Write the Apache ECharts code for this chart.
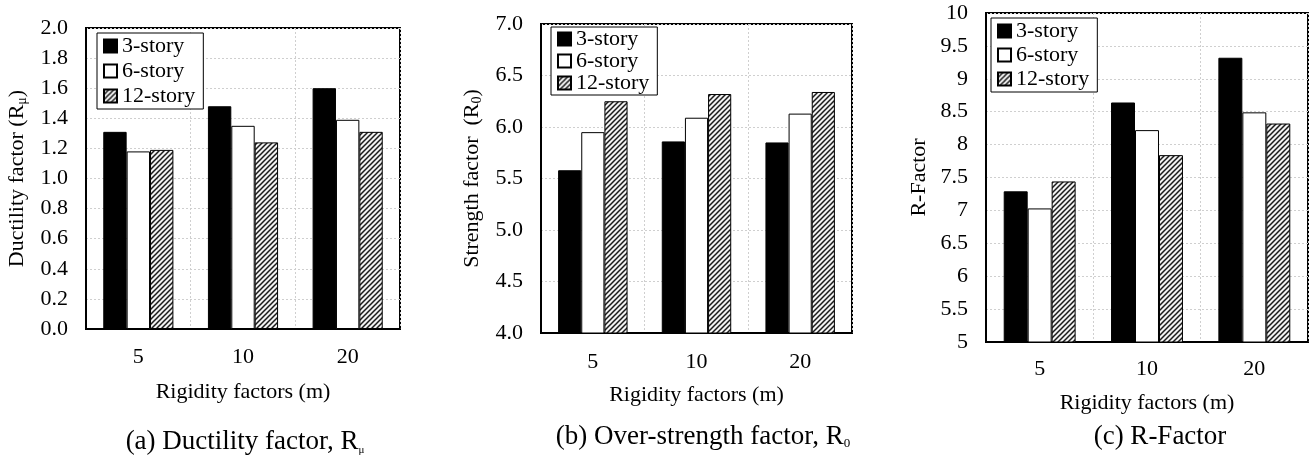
<!DOCTYPE html>
<html>
<head>
<meta charset="utf-8">
<script src="https://cdn.jsdelivr.net/npm/echarts@6/dist/echarts.min.js"></script>
<style>
  html, body { margin: 0; padding: 0; background: #fff; }
  #chart { width: 1311px; height: 456px; }
</style>
</head>
<body>
<div id="chart"></div>
<script>
// ---- data ----
const categories = ['5', '10', '20'];
const seriesNames = ['3-story', '6-story', '12-story'];

const ductility3 = [1.31, 1.48, 1.60];
const ductility6 = [1.18, 1.35, 1.39];
const ductility12 = [1.19, 1.24, 1.31];

const strength3 = [5.58, 5.86, 5.85];
const strength6 = [5.95, 6.09, 6.13];
const strength12 = [6.25, 6.32, 6.34];

const rfactor3 = [7.29, 8.64, 9.32];
const rfactor6 = [7.03, 8.22, 8.49];
const rfactor12 = [7.44, 7.84, 8.32];

const yRangeA = [0, 2, 0.2];
const yRangeB = [4, 7, 0.5];
const yRangeC = [5, 10, 0.5];

// ---- styles ----
const FONT = 'Liberation Serif';
const FS = 22;

function hatch() {
  const s = 5;
  const c = document.createElement('canvas');
  c.width = s; c.height = s;
  const g = c.getContext('2d');
  g.fillStyle = '#f2f2f2';
  g.fillRect(0, 0, s, s);
  g.strokeStyle = '#1a1a1a';
  g.lineWidth = 1.5;
  g.beginPath();
  g.moveTo(-1, s + 1); g.lineTo(s + 1, -1);
  g.moveTo(-1, 1); g.lineTo(1, -1);
  g.moveTo(s - 1, s + 1); g.lineTo(s + 1, s - 1);
  g.stroke();
  return c;
}
const hatchPattern = { image: hatch(), repeat: 'repeat' };

const seriesStyles = [
  { color: '#000', borderColor: '#000', borderWidth: 1 },
  { color: '#fff', borderColor: '#000', borderWidth: 1 },
  { color: hatchPattern, borderColor: '#000', borderWidth: 1 }
];

const grids = [
  { left: 86, top: 28, width: 314, height: 301 },
  { left: 541, top: 24, width: 311, height: 309 },
  { left: 986, top: 13, width: 322, height: 329 }
].map(g => Object.assign(g, { show: true, borderColor: '#000', borderWidth: 2, backgroundColor: '#fff', containLabel: false }));

const subRich = {
  sub: { fontFamily: FONT, fontSize: 14, color: '#000', verticalAlign: 'bottom', lineHeight: 14 }
};

function xAxis(i, labelMargin, nameGap) {
  return {
    type: 'category', gridIndex: i, data: categories,
    axisLine: { lineStyle: { color: '#000', width: 2 } },
    axisTick: { show: false },
    axisLabel: { fontFamily: FONT, fontSize: FS, color: '#000', margin: labelMargin },
    splitLine: { show: true, interval: 0, lineStyle: { color: '#cfcfcf', type: [2, 2], width: 1 } },
    name: 'Rigidity factors (m)', nameLocation: 'middle', nameGap: nameGap,
    nameTextStyle: { fontFamily: FONT, fontSize: FS, color: '#000', verticalAlign: 'top' }
  };
}
function yAxis(i, range, name, nameGap, fmt) {
  return {
    type: 'value', gridIndex: i, min: range[0], max: range[1], interval: range[2],
    axisLine: { show: true, lineStyle: { color: '#000', width: 2 } },
    axisTick: { show: false },
    axisLabel: { fontFamily: FONT, fontSize: FS, color: '#000', margin: 18, formatter: fmt },
    splitLine: { show: true, lineStyle: { color: '#cfcfcf', type: [2, 2], width: 1 } },
    name: name, nameLocation: 'middle', nameGap: nameGap, nameRotate: 90,
    nameTextStyle: { fontFamily: FONT, fontSize: FS, color: '#000', lineHeight: 24, rich: subRich }
  };
}

function legend(left, top, itemGap, padding) {
  return {
    data: seriesNames, orient: 'vertical', left: left, top: top,
    itemWidth: 13, itemHeight: 13, itemGap: itemGap, icon: 'rect',
    padding: padding, borderColor: '#000', borderWidth: 1, backgroundColor: '#fff',
    selectedMode: false,
    textStyle: { fontFamily: FONT, fontSize: FS, color: '#000', lineHeight: 22 }
  };
}

const dataSets = [
  [ductility3, ductility6, ductility12],
  [strength3, strength6, strength12],
  [rfactor3, rfactor6, rfactor12]
];
const series = [];
dataSets.forEach((set, gi) => {
  set.forEach((vals, si) => {
    series.push({
      type: 'bar', name: seriesNames[si], xAxisIndex: gi, yAxisIndex: gi,
      data: vals, barGap: '0%', barCategoryGap: '33%',
      itemStyle: seriesStyles[si], silent: true
    });
  });
});

function caption(x, y, text) {
  return {
    type: 'text', x: x, y: y,
    style: {
      text: text, align: 'center', verticalAlign: 'middle',
      font: '27px "' + FONT + '"', fill: '#000',
      rich: {
        mu: { fontFamily: FONT, fontSize: 11, fill: '#000', verticalAlign: 'bottom', lineHeight: 12 },
        zero: { fontFamily: FONT, fontSize: 13, fill: '#000', verticalAlign: 'bottom', lineHeight: 14 }
      }
    }
  };
}

const option = {
  animation: false,
  backgroundColor: '#fff',
  textStyle: { fontFamily: FONT },
  grid: grids,
  xAxis: [xAxis(0, 17, 52), xAxis(1, 18, 51), xAxis(2, 16, 50)],
  yAxis: [
    yAxis(0, yRangeA, 'Ductility factor (R{sub|μ})', 57, v => v.toFixed(1)),
    yAxis(1, yRangeB, 'Strength factor  (R{sub|0})', 57, v => v.toFixed(1)),
    yAxis(2, yRangeC, 'R-Factor', 55, v => String(v))
  ],
  legend: [
    legend(97, 33, 3, [2, 8, 2, 6]),
    legend(551, 27, 0, [1, 8, 1, 6]),
    legend(991, 18, 2, [2, 8, 2, 6])
  ],
  series: series,
  graphic: [
    caption(245, 442, '(a) Ductility factor, R{mu|μ}'),
    caption(703, 437, '(b) Over-strength factor, R{zero|0}'),
    caption(1160, 437, '(c) R-Factor')
  ]
};

const chart = echarts.init(document.getElementById('chart'), null, { renderer: 'canvas' });
chart.setOption(option);
</script>
</body>
</html>
